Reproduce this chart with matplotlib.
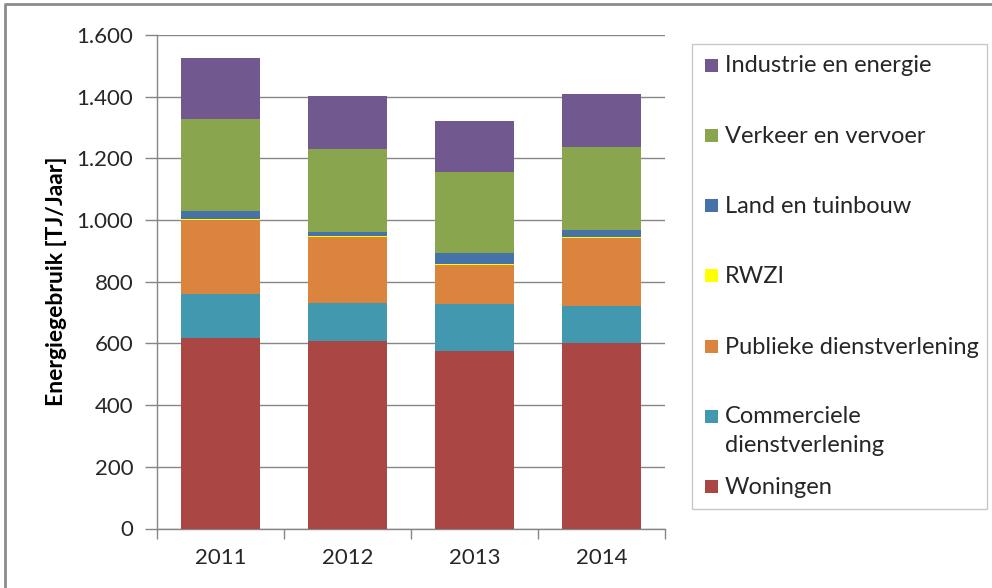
import matplotlib
matplotlib.use("Agg")
import matplotlib.pyplot as plt
from matplotlib.ticker import FuncFormatter, FixedLocator, NullFormatter
from matplotlib.lines import Line2D
from matplotlib.patches import Rectangle
import numpy as np

# data (TJ/jaar)
jaren = ["2011", "2012", "2013", "2014"]
woningen = [618, 607, 576, 603]
commerciele = [141, 125, 153, 117]
publieke = [241, 212, 125, 221]
rwzi = [4, 5, 5, 5]
land_tuinbouw = [24, 12, 35, 23]
verkeer = [301, 270, 262, 267]
industrie = [196, 170, 165, 173]

series = [
    ("Woningen", woningen, "#AA4643"),
    ("Commerciele\ndienstverlening", commerciele, "#4198AF"),
    ("Publieke dienstverlening", publieke, "#DB843D"),
    ("RWZI", rwzi, "#FFFF00"),
    ("Land en tuinbouw", land_tuinbouw, "#4572A7"),
    ("Verkeer en vervoer", verkeer, "#89A54E"),
    ("Industrie en energie", industrie, "#71588F"),
]

plt.rcParams["font.family"] = ["Lato", "DejaVu Sans"]
FS = 16
GRAY = "#868686"
W, H = 992, 588

fig = plt.figure(figsize=(W / 100, H / 100), dpi=100)
ax = fig.add_axes([157 / W, 59.5 / H, 508 / W, 493.5 / H])

x = np.arange(len(jaren))
bottom = np.zeros(len(jaren))
for naam, waarden, kleur in series:
    ax.bar(x, waarden, width=0.62, bottom=bottom, color=kleur, label=naam,
           edgecolor="none", zorder=3)
    bottom += np.array(waarden)

ax.set_xlim(-0.5, len(jaren) - 0.5)
ax.set_ylim(0, 1600)
ax.set_yticks(range(0, 1601, 200))
ax.yaxis.set_major_formatter(FuncFormatter(lambda v, p: f"{int(v):,}".replace(",", ".")))
ax.yaxis.grid(True, color=GRAY, linewidth=1, zorder=0)

# x-as: labels in het midden, streepjes op de grenzen
ax.set_xticks(x)
ax.set_xticklabels(jaren)
ax.tick_params(axis="x", which="major", length=0, pad=14, labelsize=FS, labelcolor="#262626")
ax.xaxis.set_minor_locator(FixedLocator(np.arange(-0.5, len(jaren), 1)))
ax.xaxis.set_minor_formatter(NullFormatter())
ax.tick_params(axis="x", which="minor", length=7, color=GRAY, width=1)
ax.tick_params(axis="y", length=9, color=GRAY, width=1, pad=8, labelsize=FS, labelcolor="#262626")

for s in ["top", "right"]:
    ax.spines[s].set_visible(False)
for s in ["left", "bottom"]:
    ax.spines[s].set_color(GRAY)
    ax.spines[s].set_linewidth(1)

ax.set_ylabel("Energiegebruik [TJ/Jaar]", fontsize=16.5, fontweight="bold", labelpad=7)

# legenda, met de hand opgebouwd zoals in Excel (bovenste reeks eerst,
# vaste afstand per item, tweede regel hangt eronder)
fig.add_artist(Rectangle((692 / W, 1 - 509 / H), 295 / W, 465 / H,
                         transform=fig.transFigure, facecolor="white",
                         edgecolor="#C8C8C8", linewidth=1))
y0, stap, regel = 65, 70.3, 28
for i, (naam, _, kleur) in enumerate(series[::-1]):
    yc = y0 + i * stap
    fig.add_artist(Rectangle((705 / W, 1 - (yc + 6.5) / H), 13 / W, 13 / H,
                             transform=fig.transFigure, facecolor=kleur,
                             edgecolor="none"))
    # baseline-uitlijning geldt voor de laatste regel
    extra = naam.count("\n") * regel
    fig.text(725 / W, 1 - (yc + 7.5 + extra) / H, naam, fontsize=17, color="#262626",
             va="baseline", ha="left", linespacing=1.45)

# rand van het grafiekgebied
fig.add_artist(Line2D([5 / W, 5 / W, 1], [0, 1 - 4 / H, 1 - 4 / H],
                      transform=fig.transFigure, color="#8C8C8C", linewidth=2))

fig.savefig("out.png", dpi=100)
